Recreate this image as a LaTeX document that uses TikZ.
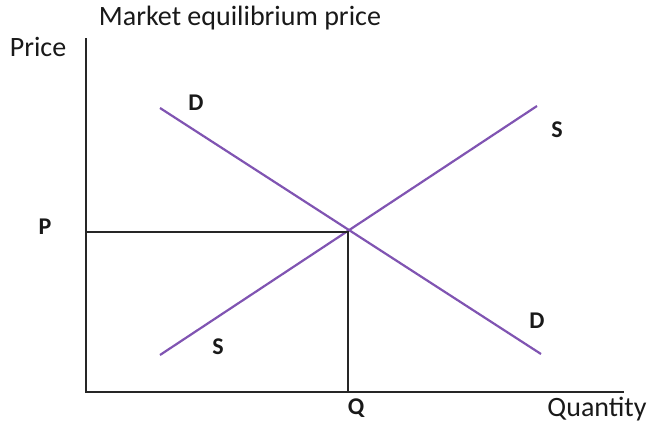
\documentclass[tikz,border=0pt]{standalone}
\usepackage{fontspec}
\setmainfont{Carlito}
\definecolor{curve}{RGB}{128,84,178}

\begin{document}
\begin{tikzpicture}[
      x=1pt,
      y=-1pt,
      font=\fontsize{28}{32}\selectfont,
      axis/.style={line width=2.2pt, black!85},
      guide/.style={line width=2.2pt, black!85},
      curveline/.style={line width=2.2pt, curve},
      lbl/.style={inner sep=0pt, text=black!90},
      mark lbl/.style={lbl, font=\fontsize{24}{28}\selectfont\bfseries}
  ]
  \useasboundingbox (0,0) rectangle (649,426);

  % Axes
  \coordinate (origin) at (86,392);
  \coordinate (ytop)   at (86,38);
  \coordinate (xend)   at (624,392);
  \draw[axis] (ytop) -- (origin) -- (xend);

  % Demand and supply
  \coordinate (d1) at (160,108);
  \coordinate (d2) at (541,354);
  \coordinate (s1) at (160,355);
  \coordinate (s2) at (537,106);
  \draw[curveline] (d1) -- (d2);
  \draw[curveline] (s1) -- (s2);

  % Equilibrium
  \coordinate (eq)  at (348,232);
  \coordinate (peq) at (86,232);
  \coordinate (qeq) at (348,392);
  \draw[guide] (peq) -- (eq) -- (qeq);

  % Labels
  \node[lbl] (title) at (240,18)  {Market equilibrium price};
  \node[lbl] (price) at (38,47)   {Price};
  \node[lbl] (qty)   at (597,409) {Quantity};
  \node[mark lbl] (plbl)  at (45,227)  {P};
  \node[mark lbl] (qlbl)  at (356,408) {Q};
  \node[mark lbl] (dtop)  at (196,103) {D};
  \node[mark lbl] (dbot)  at (537,321) {D};
  \node[mark lbl] (stop)  at (557,130) {S};
  \node[mark lbl] (sbot)  at (218,347) {S};
\end{tikzpicture}
\end{document}
